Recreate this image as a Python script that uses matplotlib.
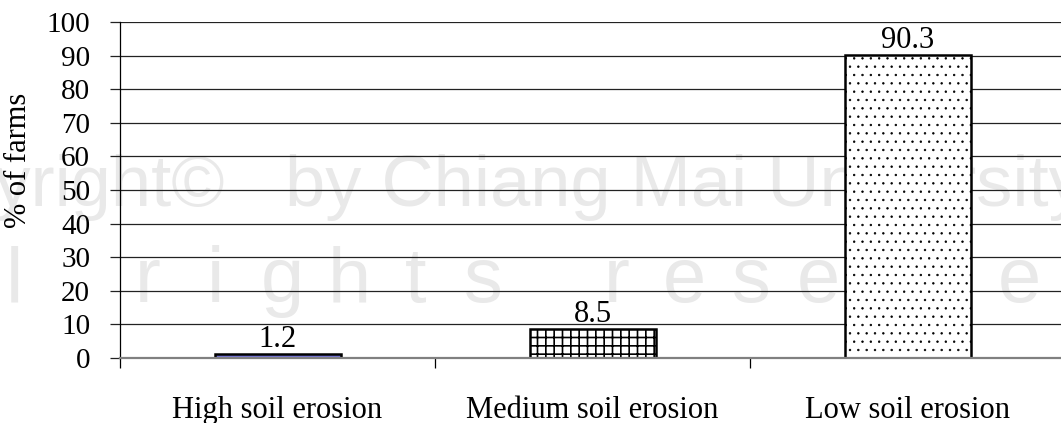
"""
Soil erosion levels across surveyed farms — bar chart with value labels.
"""

import matplotlib
matplotlib.use("Agg")
import matplotlib.pyplot as plt

# ------------------------------------------------------------
# data
# ------------------------------------------------------------
categories = ["High soil erosion", "Medium soil erosion", "Low soil erosion"]
pct_farms = [1.2, 8.5, 90.3]
bar_fills = ["#7575d8", "white", "white"]
bar_hatches = ["", "++", ".."]
hatch_widths = [1.0, 1.2, 0.5]
y_ticks = list(range(0, 101, 10))

W, H = 1061, 423
SERIF = "Liberation Serif"
MARK = ["Liberation Sans", "DejaVu Sans"]
MARK_COLOR = "#e9e9e9"

plt.rcParams["hatch.linewidth"] = 1.2

fig = plt.figure(figsize=(W / 100, H / 100), dpi=100)
fig.patch.set_facecolor("white")

# faint background watermark (drawn beneath the axes)
fig.text(225 / W, 1 - 206 / H, "Copyright\u00a9", fontsize=52, family=MARK,
         color=MARK_COLOR, ha="right", va="baseline", zorder=-5)
fig.text(285 / W, 1 - 206 / H, "by Chiang Mai University", fontsize=52,
         family=MARK, color=MARK_COLOR, ha="left", va="baseline", zorder=-5)
for k, ch in enumerate("All rights reserved"):
    fig.text((14 + 67 * (k - 2)) / W, 1 - 302 / H, ch, fontsize=56, family=MARK,
             color=MARK_COLOR, ha="center", va="baseline", zorder=-5)

# plot area: 0 at y=358px, 100 at y=22px, three 315px categories from x=120px
ax = fig.add_axes([120 / W, (H - 358) / H, 945 / W, 336 / H])
ax.set_facecolor("none")
ax.set_axisbelow(True)

x = list(range(len(categories)))
bars = ax.bar(x, pct_farms, width=0.4, color=bar_fills, edgecolor="black",
              linewidth=1.8, zorder=3)
for b, h, lw in zip(bars, bar_hatches, hatch_widths):
    b.set_hatch(h)
    if hasattr(b, "set_hatch_linewidth"):
        b.set_hatch_linewidth(lw)

for xi, v in zip(x, pct_farms):
    ax.annotate(f"{v}", (xi, v), xytext=(0, 5), textcoords="offset points",
                ha="center", va="baseline", fontsize=22, family=SERIF)

ax.set_xlim(-0.5, 2.5)
ax.set_ylim(0, 100)
ax.set_yticks(y_ticks)
ax.set_yticklabels([str(t) for t in y_ticks], fontsize=21, family=SERIF)
ax.yaxis.grid(True, color="#222222", linewidth=0.9)
ax.tick_params(axis="y", length=7.5, width=0.9, color="#222222", pad=14)

# category labels sit at the centres, tick marks at the boundaries
ax.set_xticks(x)
ax.set_xticklabels(categories, fontsize=22, family=SERIF)
ax.tick_params(axis="x", which="major", length=0, pad=27)
ax.set_xticks([-0.5, 0.5, 1.5, 2.5], minor=True)
ax.tick_params(axis="x", which="minor", length=7.5, width=0.9, color="black",
               direction="out")

for side in ("top", "right"):
    ax.spines[side].set_visible(False)
ax.spines["left"].set_color("black")
ax.spines["left"].set_linewidth(0.9)
ax.spines["bottom"].set_color("#808080")
ax.spines["bottom"].set_linewidth(1.6)
ax.spines["bottom"].set_zorder(4)

fig.text(19 / W, 1 - 160 / H, "% of farms", rotation=90, fontsize=22,
         family=SERIF, ha="center", va="center")

fig.savefig("out.png", dpi=100)
